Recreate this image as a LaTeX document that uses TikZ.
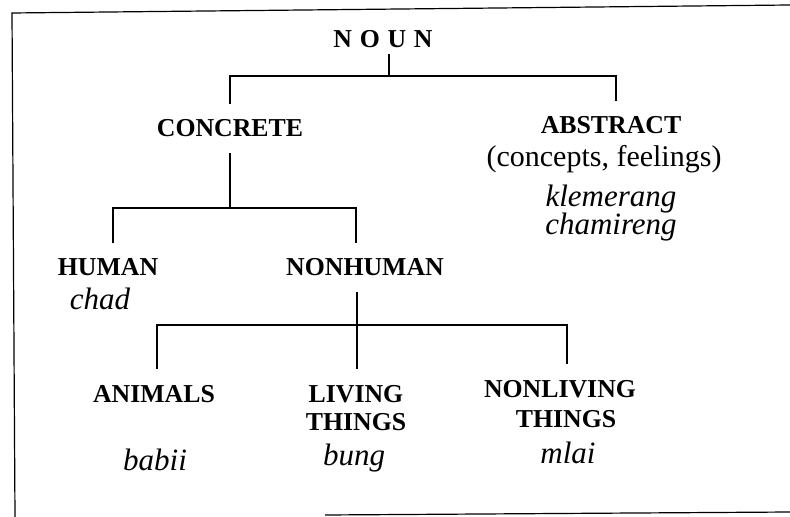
\documentclass[tikz,border=0pt]{standalone}
\usepackage{fontspec}
\setmainfont{Liberation Serif}
\usepackage{tikz}
\usetikzlibrary{positioning, calc}

\tikzset{
  cat/.style={font=\fontsize{12.9}{15}\selectfont\bfseries, anchor=base, inner xsep=0pt, inner ysep=7.5pt},
  note/.style={font=\fontsize{15}{17}\selectfont, anchor=base, inner sep=0pt},
  word/.style={font=\fontsize{15.5}{17}\selectfont\itshape, anchor=base, inner sep=0pt},
}

\begin{document}
\begin{tikzpicture}[x=0.5pt,y=-0.5pt,line width=0.6pt]
      \useasboundingbox (0,0) rectangle (790,517);
      % frame
      \draw (790,5) -- (12,13) -- (15,517);
      \draw (325,515) -- (790,512);
      % labels
      \node[cat, inner ysep=2.5pt] (noun) at (383,48) {N\hspace{0.3em}O\hspace{0.3em}U\hspace{0.3em}N};
      \node[cat] (concrete) at (230,137) {CONCRETE};
      \node[cat] (abstract) at (611,134) {ABSTRACT};
      \node[note] (feelings) at (604,167) {(concepts, feelings)};
      \node[word] (klemerang) at (611,207) {klemerang};
      \node[word] (chamireng) at (611,235) {chamireng};
      \node[cat] (human) at (108,276) {HUMAN};
      \node[word] (chad) at (100,310) {chad};
      \node[cat] (nonhuman) at (365,276) {NONHUMAN};
      \node[cat] (animals) at (154,402) {ANIMALS};
      \node[word] (babii) at (155,470) {babii};
      \node[cat] (living) at (356,402) {LIVING};
      \node[cat, inner ysep=0pt] (living2) at (356,430) {THINGS};
      \node[word] (bung) at (354,465) {bung};
      \node[cat] (nonliving) at (560,397) {NONLIVING};
      \node[cat, inner ysep=0pt] (nonliving2) at (566,427) {THINGS};
      \node[word] (mlai) at (568,463) {mlai};
      % junctions
      \coordinate (j1) at (389,76);
      \coordinate (j2) at (230,208);
      \coordinate (j3) at (357,325);
      % branches
      \draw (noun.south -| j1) -- (j1);
      \draw (concrete.north) |- (j1) -| ($(abstract.north)+(5,0)$);
      \draw (concrete.south) -- (j2);
      \draw ($(human.north)+(5,0)$) |- (j2) -| ($(nonhuman.north)+(-9,0)$);
      \draw (nonhuman.south -| j3) -- (living.north -| j3);
      \draw ($(animals.north)+(3,0)$) |- (j3) -| ($(nonliving.north)+(7,0)$);
\end{tikzpicture}
\end{document}
